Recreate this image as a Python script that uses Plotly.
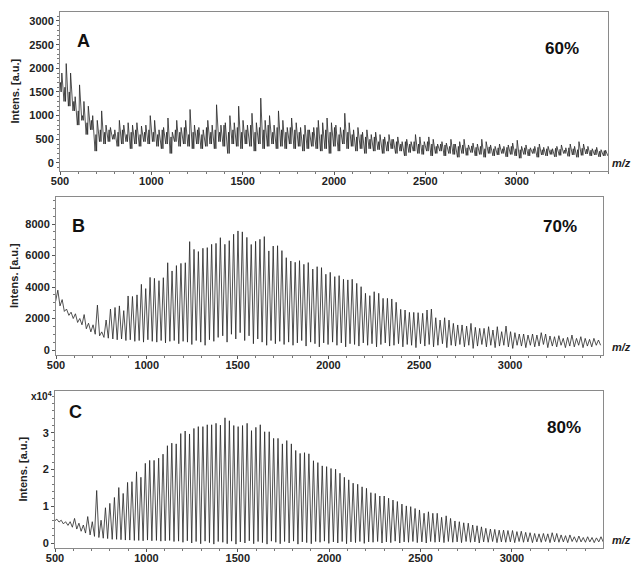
import plotly.graph_objects as go

# ---------------- data ----------------
PEAK_MZ = [
    510, 534, 558, 583, 607, 631, 655, 679, 704, 728,
    752, 776, 800, 825, 849, 873, 897, 921, 946, 970,
    994, 1018, 1042, 1067, 1091, 1115, 1139, 1163, 1188, 1212,
    1236, 1260, 1284, 1309, 1333, 1357, 1381, 1405, 1430, 1454,
    1478, 1502, 1526, 1551, 1575, 1599, 1623, 1647, 1672, 1696,
    1720, 1744, 1768, 1793, 1817, 1841, 1865, 1889, 1914, 1938,
    1962, 1986, 2010, 2035, 2059, 2083, 2107, 2131, 2156, 2180,
    2204, 2228, 2252, 2277, 2301, 2325, 2349, 2373, 2398, 2422,
    2446, 2470, 2494, 2519, 2543, 2567, 2591, 2615, 2640, 2664,
    2688, 2712, 2736, 2761, 2785, 2809, 2833, 2857, 2882, 2906,
    2930, 2954, 2978, 3003, 3027, 3051, 3075, 3099, 3124, 3148,
    3172, 3196, 3220, 3245, 3269, 3293, 3317, 3341, 3366, 3390,
    3414, 3438, 3462, 3487,
]

# Panel A (60%) intensities [a.u.]
A_PEAK = [
    1900, 2100, 1900, 1400, 1650, 1300, 1200, 1000, 900, 1100,
    800, 750, 700, 900, 800, 850, 800, 850, 780, 800,
    1000, 900, 700, 750, 950, 650, 900, 750, 900, 1130,
    800, 750, 700, 900, 800, 1230, 800, 850, 1000, 850,
    1200, 900, 800, 1050, 850, 1370, 900, 1000, 800, 1100,
    900, 750, 950, 850, 750, 800, 700, 750, 900, 850,
    950, 850, 800, 750, 1050, 850, 700, 750, 650, 700,
    600, 650, 600, 550, 600, 500, 550, 450, 500, 450,
    600, 550, 450, 550, 500, 400, 450, 420, 500, 400,
    450, 500, 380, 420, 400, 500, 450, 380, 350, 400,
    350, 380, 420, 480, 350, 380, 320, 350, 400, 330,
    350, 300, 350, 380, 320, 400, 350, 450, 400, 350,
    300, 330, 280, 270,
]
# secondary (smaller) spikes between the main ones in panel A
A_SUB = [
    1700, 1600, 1500, 1300, 1100, 1000, 850, 900, 600, 700,
    650, 700, 600, 650, 700, 600, 650, 700, 600, 650,
    700, 650, 600, 700, 650, 550, 700, 650, 750, 600,
    650, 700, 600, 750, 650, 700, 650, 800, 650, 700,
    750, 650, 700, 800, 650, 750, 700, 800, 650, 750,
    700, 650, 750, 700, 650, 600, 700, 650, 750, 600,
    700, 650, 750, 600, 700, 650, 600, 550, 600, 550,
    500, 550, 450, 500, 450, 500, 450, 400, 450, 400,
    450, 400, 380, 450, 400, 350, 400, 380, 350, 400,
    350, 380, 320, 360, 330, 350, 300, 340, 300, 320,
    300, 330, 350, 300, 280, 320, 290, 300, 330, 280,
    300, 280, 310, 290, 270, 320, 300, 280, 310, 290,
    270, 280, 250, 260,
]
A_VALLEY = [
    1500, 1300, 1200, 1100, 800, 900, 600, 700, 250, 450,
    400, 450, 500, 350, 400, 450, 300, 400, 350, 450,
    400, 450, 350, 300, 400, 200, 450, 350, 400, 350,
    300, 400, 300, 350, 400, 300, 450, 350, 200, 400,
    350, 300, 400, 350, 250, 400, 300, 350, 400, 300,
    350, 300, 400, 300, 350, 250, 300, 350, 300, 250,
    300, 200, 350, 250, 400, 300, 350, 250, 300, 200,
    300, 250, 280, 200, 250, 300, 200, 250, 150, 220,
    250, 200, 180, 250, 150, 200, 250, 150, 200, 180,
    120, 200, 160, 220, 150, 180, 120, 200, 150, 170,
    200, 130, 180, 150, 100, 180, 150, 200, 120, 170,
    150, 180, 130, 160, 200, 140, 170, 120, 160, 190,
    150, 170, 130, 150,
]

# Panel B (70%) intensities [a.u.]
B_PEAK = [
    3800, 3200, 2600, 2400, 2300, 2000, 2250, 1700, 1600, 2850,
    1150, 1905, 2600, 2700, 2800, 2500, 3430, 3400, 3500, 4170,
    3900, 4610, 4550, 4400, 4590, 5540, 5020, 5360, 5500, 5540,
    6880, 6390, 6250, 6460, 6500, 6710, 6770, 7130, 6710, 6940,
    7350, 7560, 7500, 7150, 6700, 6900, 7030, 7200, 6290, 6600,
    6620, 6310, 5860, 5650, 5570, 5670, 5440, 5550, 5140, 5290,
    5230, 4810, 4930, 4660, 4720, 4490, 4450, 4490, 4230, 4020,
    3600, 3450, 3700, 3600, 3280, 3280, 3240, 3030, 2580, 2540,
    2390, 2390, 2370, 2330, 2540, 2600, 2050, 1900, 2050, 1900,
    1690, 1590, 1590, 1520, 1690, 1440, 1375, 1375, 1480, 1270,
    1480, 1165, 1520, 1165, 1100, 1016, 1016, 950, 1016, 950,
    1100, 1016, 890, 845, 910, 740, 805, 950, 740, 845,
    740, 675, 740, 635,
]
B_VALLEY = [
    3100, 2800, 2450, 2200, 2000, 1750, 1600, 1350, 1150, 1000,
    900, 800, 750, 700, 650, 700, 600, 650, 550, 600,
    500, 650, 550, 500, 600, 450, 550, 600, 400, 550,
    500, 350, 600, 500, 300, 650, 550, 800, 900, 500,
    1000, 700, 1100, 600, 900, 400, 700, 500, 300, 600,
    400, 550, 350, 500, 300, 450, 600, 250, 500, 400,
    200, 450, 350, 500, 300, 450, 200, 400, 350, 250,
    450, 300, 400, 200, 350, 450, 250, 300, 400, 200,
    350, 300, 150, 400, 250, 350, 200, 300, 400, 150,
    300, 250, 350, 200, 300, 100, 250, 350, 200, 300,
    150, 250, 300, 200, 100, 300, 250, 150, 300, 200,
    250, 350, 150, 250, 200, 300, 150, 250, 200, 300,
    150, 250, 200, 300,
]

# Panel C (80%) intensities [x10^4 a.u.]
C_PEAK = [
    0.65, 0.62, 0.58, 0.58, 0.67, 0.54, 0.49, 0.72, 0.58, 1.43,
    0.62, 0.96, 1.08, 1.24, 1.51, 1.35, 1.65, 1.67, 1.94, 1.79,
    2.17, 2.25, 2.25, 2.31, 2.42, 2.65, 2.72, 2.70, 2.98, 3.05,
    2.97, 3.12, 3.17, 3.17, 3.22, 3.22, 3.26, 3.21, 3.41, 3.33,
    3.20, 3.17, 3.20, 3.26, 3.06, 3.15, 3.22, 3.03, 3.03, 2.85,
    2.85, 2.70, 2.79, 2.70, 2.52, 2.44, 2.46, 2.43, 2.24, 2.19,
    2.10, 2.08, 2.03, 2.01, 1.90, 1.79, 1.72, 1.63, 1.60, 1.53,
    1.49, 1.37, 1.35, 1.28, 1.28, 1.22, 1.17, 1.13, 1.06, 1.01,
    0.99, 0.94, 0.90, 0.81, 0.85, 0.81, 0.81, 0.70, 0.74, 0.67,
    0.60, 0.58, 0.55, 0.54, 0.49, 0.47, 0.44, 0.40, 0.38, 0.37,
    0.35, 0.35, 0.34, 0.34, 0.31, 0.32, 0.29, 0.28, 0.26, 0.25,
    0.26, 0.25, 0.28, 0.26, 0.22, 0.20, 0.22, 0.17, 0.19, 0.15,
    0.17, 0.15, 0.14, 0.17,
]
C_VALLEY = [
    0.60, 0.57, 0.52, 0.48, 0.43, 0.38, 0.32, 0.27, 0.22, 0.18,
    0.15, 0.13, 0.12, 0.10, 0.10, 0.09, 0.08, 0.08, 0.07, 0.07,
    0.06, 0.08, 0.06, 0.07, 0.05, 0.06, 0.07, 0.04, 0.05, 0.02,
    0.06, 0.00, 0.04, -0.02, 0.05, 0.01, -0.03, 0.04, 0.02, -0.02,
    0.05, -0.03, 0.03, 0.00, 0.06, -0.02, 0.04, 0.01, -0.03, 0.05,
    0.02, -0.02, 0.04, 0.00, 0.05, -0.03, 0.03, 0.01, -0.02, 0.04,
    0.02, 0.05, -0.01, 0.03, 0.00, 0.04, -0.02, 0.03, 0.01, 0.04,
    -0.01, 0.03, 0.02, 0.04, 0.00, 0.03, 0.01, 0.05, 0.00, 0.03,
    0.02, 0.04, 0.01, 0.03, 0.00, 0.04, 0.02, 0.03, 0.01, 0.04,
    0.02, 0.03, 0.01, 0.04, 0.02, 0.03, 0.00, 0.03, 0.02, 0.04,
    0.01, 0.03, 0.02, 0.03, 0.01, 0.04, 0.02, 0.03, 0.01, 0.03,
    0.02, 0.04, 0.01, 0.03, 0.02, 0.03, 0.01, 0.04, 0.02, 0.03,
    0.02, 0.03, 0.01, 0.03,
]

PANEL_LABELS = ["A", "B", "C"]
PERCENT_LABELS = ["60%", "70%", "80%"]
X_TICKS = [500, 1000, 1500, 2000, 2500, 3000]
Y_TICKS = [[0, 500, 1000, 1500, 2000, 2500, 3000],
           [0, 2000, 4000, 6000, 8000],
           [0, 1, 2, 3]]

for arr in (A_PEAK, A_SUB, A_VALLEY, B_PEAK, B_VALLEY, C_PEAK, C_VALLEY):
    assert len(arr) == len(PEAK_MZ), len(arr)

# ---------------- figure ----------------
W, H = 632, 564
HALF = 12  # half width of a peak in m/z (line shape)
FONT = "Arial, Liberation Sans, sans-serif"
LINE = "#262626"


def spectrum(mz, peak, valley, sub=None):
    xs, ys = [], []
    for k, (m, p, v) in enumerate(zip(mz, peak, valley)):
        if sub is None:
            xs += [m - HALF, m]
            ys += [v, p]
        else:
            xs += [m - HALF, m - HALF * 0.6, m - HALF * 0.3, m]
            ys += [v, sub[k], v, p]
    xs.append(mz[-1] + HALF)
    ys.append(valley[-1])
    return xs, ys


def px(x):
    return x / W


def py(y):
    return 1 - y / H


fig = go.Figure()
series = [(A_PEAK, A_VALLEY, A_SUB), (B_PEAK, B_VALLEY, None), (C_PEAK, C_VALLEY, None)]
for i, (pk, vl, sb) in enumerate(series):
    xs, ys = spectrum(PEAK_MZ, pk, vl, sb)
    sfx = "" if i == 0 else str(i + 1)
    fig.add_trace(go.Scatter(x=xs, y=ys, mode="lines",
                             line=dict(color=LINE, width=0.8),
                             xaxis="x" + sfx, yaxis="y" + sfx,
                             showlegend=False, hoverinfo="skip"))

# panel geometry in pixels: (left, right, top, bottom)
geo = [(60, 608, 12, 171), (56, 603, 197, 355), (55, 603, 391, 548)]
xr = [[500, 3500], [500, 3512], [500, 3498]]
yr = [[-170, 3190], [-317, 9714], [-0.136, 4.14]]
ymin = [100, 500, 0.2]

tickfont = dict(family=FONT, size=11, color="#222", weight="bold")
layout = dict(width=W, height=H, margin=dict(l=0, r=0, t=0, b=0, autoexpand=False),
              paper_bgcolor="white", plot_bgcolor="white", showlegend=False)

for i, (l, r, t, b) in enumerate(geo):
    sfx = "" if i == 0 else str(i + 1)
    layout["xaxis" + sfx] = dict(
        domain=[px(l), px(r)], range=xr[i], anchor="y" + sfx, automargin=False,
        tickvals=X_TICKS, ticks="outside", ticklen=3, tickcolor="#555",
        ticklabelstandoff=-3,
        showgrid=False, zeroline=False, showline=True, linecolor="#8a8a8a",
        linewidth=1, mirror=True, tickfont=tickfont,
        minor=dict(dtick=100, tick0=500, ticks="outside", ticklen=2,
                   tickcolor="#777", showgrid=False))
    layout["yaxis" + sfx] = dict(
        domain=[py(b), py(t)], range=yr[i], anchor="x" + sfx, automargin=False,
        tickvals=Y_TICKS[i], ticks="outside", ticklen=3, tickcolor="#555",
        showgrid=False, zeroline=False, showline=True, linecolor="#8a8a8a",
        linewidth=1, mirror=True, tickfont=tickfont,
        minor=dict(dtick=ymin[i], tick0=0, ticks="outside", ticklen=2,
                   tickcolor="#777", showgrid=False))

ann = []


def note(x, y, text, size, angle=0, color="#222"):
    ann.append(dict(x=px(x), y=py(y), xref="paper", yref="paper",
                    xanchor="center", yanchor="middle", text=text,
                    textangle=angle, showarrow=False,
                    font=dict(family=FONT, size=size, color=color, weight="bold")))


title_x = [14, 14, 22]
for i, (l, r, t, b) in enumerate(geo):
    note(title_x[i], (t + b) / 2, "Intens. [a.u.]", 11, angle=-90)
    note(621, b - 8, "<i>m/z</i>", 11)

lab_pos = [(84, 41), (78, 226), (75, 412)]
pct_pos = [(562, 49), (560, 226), (564, 427)]
for i in range(3):
    note(lab_pos[i][0], lab_pos[i][1], PANEL_LABELS[i], 18, color="#111")
    note(pct_pos[i][0], pct_pos[i][1], PERCENT_LABELS[i], 17, color="#111")

note(42, 396, "x10<sup>4</sup>", 10)

layout["annotations"] = ann
fig.update_layout(**layout)
fig.write_html("out.html", config={"displayModeBar": False},
               post_script="document.body.style.margin='0';document.body.style.overflow='hidden';")
